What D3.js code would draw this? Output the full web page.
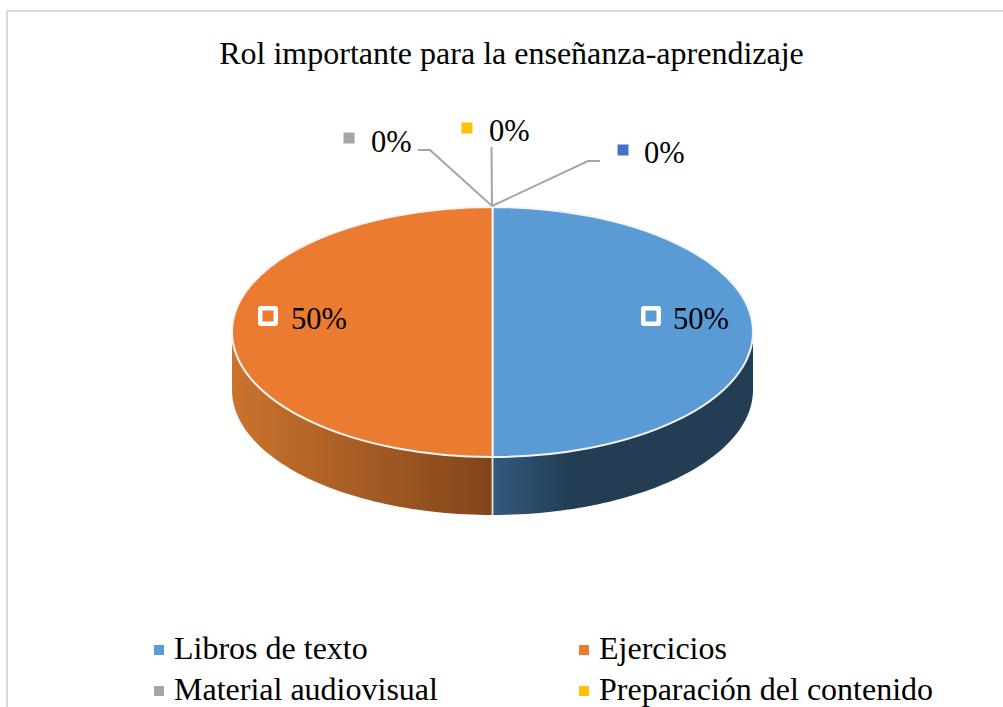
<!DOCTYPE html>
<html>
<head>
<meta charset="utf-8">
<script src="https://cdn.jsdelivr.net/npm/d3@7"></script>
<style>
html,body{margin:0;padding:0;background:#fff;overflow:hidden}
svg{display:block}
text{font-family:"Liberation Serif",serif;fill:#000}
</style>
</head>
<body>
<svg id="chart" width="1003" height="707"></svg>
<script>
const titleText = "Rol importante para la enseñanza-aprendizaje";
const categories = ["Libros de texto","Ejercicios","Material audiovisual","Preparación del contenido","Otros"];
const values = [50,50,0,0,0];
const colours = ["#5b9bd5","#ea7b31","#a5a5a5","#ffc000","#4472c4"];
const legendCount = 4;

const svg = d3.select("#chart");
const W = 1003, H = 707;
const cx = 492.5, cy = 332, rx = 260.5, ry = 125, depth = 58;

// frame
svg.append("path").attr("d", d3.line()([[7,H],[7,11],[W,11]]))
  .attr("fill","none").attr("stroke","#d9d9d9").attr("stroke-width",2);

svg.append("text").attr("x",511.5).attr("y",64).attr("text-anchor","middle")
  .attr("font-size",32).text(titleText);

const defs = svg.append("defs");
function grad(id,x1,x2,stops){
  const g = defs.append("linearGradient").attr("id",id).attr("gradientUnits","userSpaceOnUse")
    .attr("x1",x1).attr("x2",x2).attr("y1",0).attr("y2",0);
  stops.forEach(([o,c])=>g.append("stop").attr("offset",o).attr("stop-color",c));
}
grad("sideBlue",cx,cx+rx,[[0,"#33597f"],[0.3,"#233d54"],[1,"#233d54"]]);
grad("sideOrange",cx-rx,cx,[[0,"#cb732d"],[1,"#81451a"]]);
const sideFills = ["url(#sideBlue)","url(#sideOrange)"];

const pieData = d3.pie().sort(null).value(d=>d)(values);
const px = a => cx + rx*Math.sin(a);
const py = a => cy - ry*Math.cos(a);

// side walls (visible lower half of the disc)
pieData.slice(0,2).forEach((d,i)=>{
  const a0 = Math.max(d.startAngle, Math.PI/2), a1 = Math.min(d.endAngle, Math.PI*1.5);
  const angles = d3.range(0,61).map(k=>a0+(a1-a0)*k/60);
  const pts = angles.map(a=>[px(a),py(a)]).concat(angles.slice().reverse().map(a=>[px(a),py(a)+depth]));
  svg.append("path").attr("d",d3.line()(pts)+"Z").attr("fill",sideFills[i]);
});
svg.append("line").attr("x1",cx).attr("x2",cx).attr("y1",cy+ry).attr("y2",cy+ry+depth)
  .attr("stroke","#e4e4e4").attr("stroke-width",1.8);

// top face
const arc = d3.arc().innerRadius(0).outerRadius(rx);
const topFace = svg.append("g").attr("transform",`translate(${cx},${cy}) scale(1,${ry/rx})`);
topFace.selectAll("path").data(pieData.slice(0,2)).join("path")
  .attr("d",arc).attr("fill",(d,i)=>colours[i])
  .attr("stroke","#f4f4f4").attr("stroke-width",2).attr("vector-effect","non-scaling-stroke");

// leader lines for the zero slices
const leaderEnds = [[[430,150],[418,150]],[[491.5,147]],[[588,161],[600,161]]];
leaderEnds.forEach(e=>{
  svg.append("path").attr("d",d3.line()([[cx-0.5,206]].concat(e)))
    .attr("fill","none").attr("stroke","#a5a5a5").attr("stroke-width",2);
});

// data labels
const labels = [
  {i:0,sx:651,sy:316,tx:673,y:329,halo:true},
  {i:1,sx:268,sy:316,tx:291,y:329,halo:true},
  {i:2,sx:349,sy:138,tx:371,y:152,halo:false},
  {i:3,sx:467,sy:128,tx:489,y:141,halo:false},
  {i:4,sx:623,sy:150,tx:644,y:163,halo:false}
];
labels.forEach(l=>{
  if(l.halo) svg.append("rect").attr("x",l.sx-10).attr("y",l.sy-10).attr("width",20).attr("height",20)
    .attr("rx",3).attr("fill","#fff");
  svg.append("rect").attr("x",l.sx-5.5).attr("y",l.sy-5.5).attr("width",11).attr("height",11)
    .attr("fill",colours[l.i]);
  svg.append("text").attr("x",l.tx).attr("y",l.y).attr("font-size",30.5)
    .text(d3.format(".0f")(values[l.i])+"%");
});

// legend
const legendX = [154,579], legendY = [659,700];
categories.slice(0,legendCount).forEach((c,i)=>{
  const x = legendX[i%2], y = legendY[Math.floor(i/2)];
  svg.append("rect").attr("x",x).attr("y",y-14).attr("width",10).attr("height",10).attr("fill",colours[i]);
  svg.append("text").attr("x",x+20).attr("y",y).attr("font-size",32).text(c);
});
</script>
</body>
</html>
